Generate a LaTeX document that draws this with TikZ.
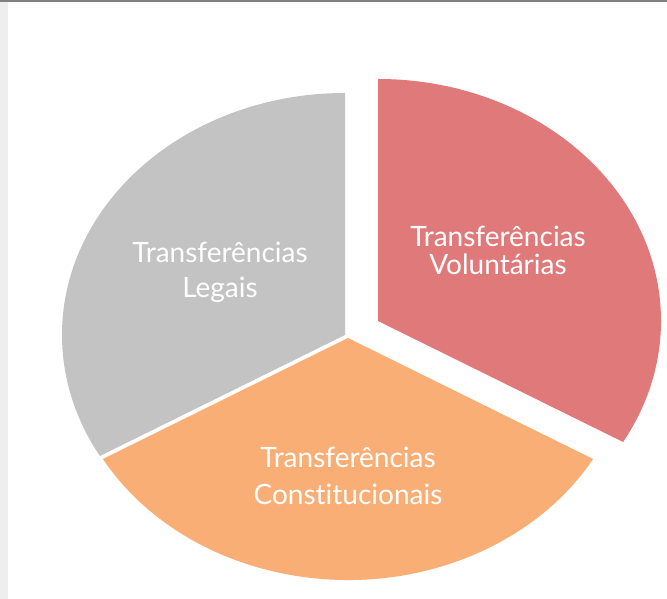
\documentclass[tikz,border=0pt]{standalone}
\usepackage{fontspec}
\setmainfont[Ligatures={NoCommon}]{Lato}
\definecolor{pgray}{HTML}{C3C3C3}
\definecolor{pred}{HTML}{E07A7A}
\definecolor{porange}{HTML}{F9AE76}
\definecolor{barclr}{HTML}{808080}
\definecolor{stripclr}{HTML}{EEEEEE}
\tikzset{
  lbl/.style={text=white, align=center, inner sep=0pt},
}
\begin{document}
\begin{tikzpicture}[x=1pt,y=1pt]
\useasboundingbox (0,0) rectangle (667,599);
\fill[white] (0,0) rectangle (667,599);
\fill[stripclr] (0,0) rectangle (8,599);
\fill[barclr] (0,597) rectangle (667,599);
% apexes of the exploded slices
\coordinate (cr) at (378,278);
\coordinate (cg) at (345,264);
\coordinate (co) at (348,261);
% slices
\fill[pred] (cr) -- +(90:283 and 242) arc[start angle=90, end angle=-30, x radius=283, y radius=242] -- cycle;
\fill[pgray] (cg) -- +(90:283 and 242) arc[start angle=90, end angle=210, x radius=283, y radius=242] -- cycle;
\fill[porange] (co) -- +(210:283 and 242) arc[start angle=210, end angle=330, x radius=283, y radius=242] -- cycle;
% labels
\node[lbl, font=\fontsize{28}{28}\selectfont] (tv) at (498,349) {Transferências\\Voluntárias};
\node[lbl, font=\fontsize{28}{35}\selectfont] (tl) at (220,327) {Transferências\\Legais};
\node[lbl, font=\fontsize{28}{37}\selectfont] (tc) at (348,123) {Transferências\\Constitucionais};
\end{tikzpicture}
\end{document}
